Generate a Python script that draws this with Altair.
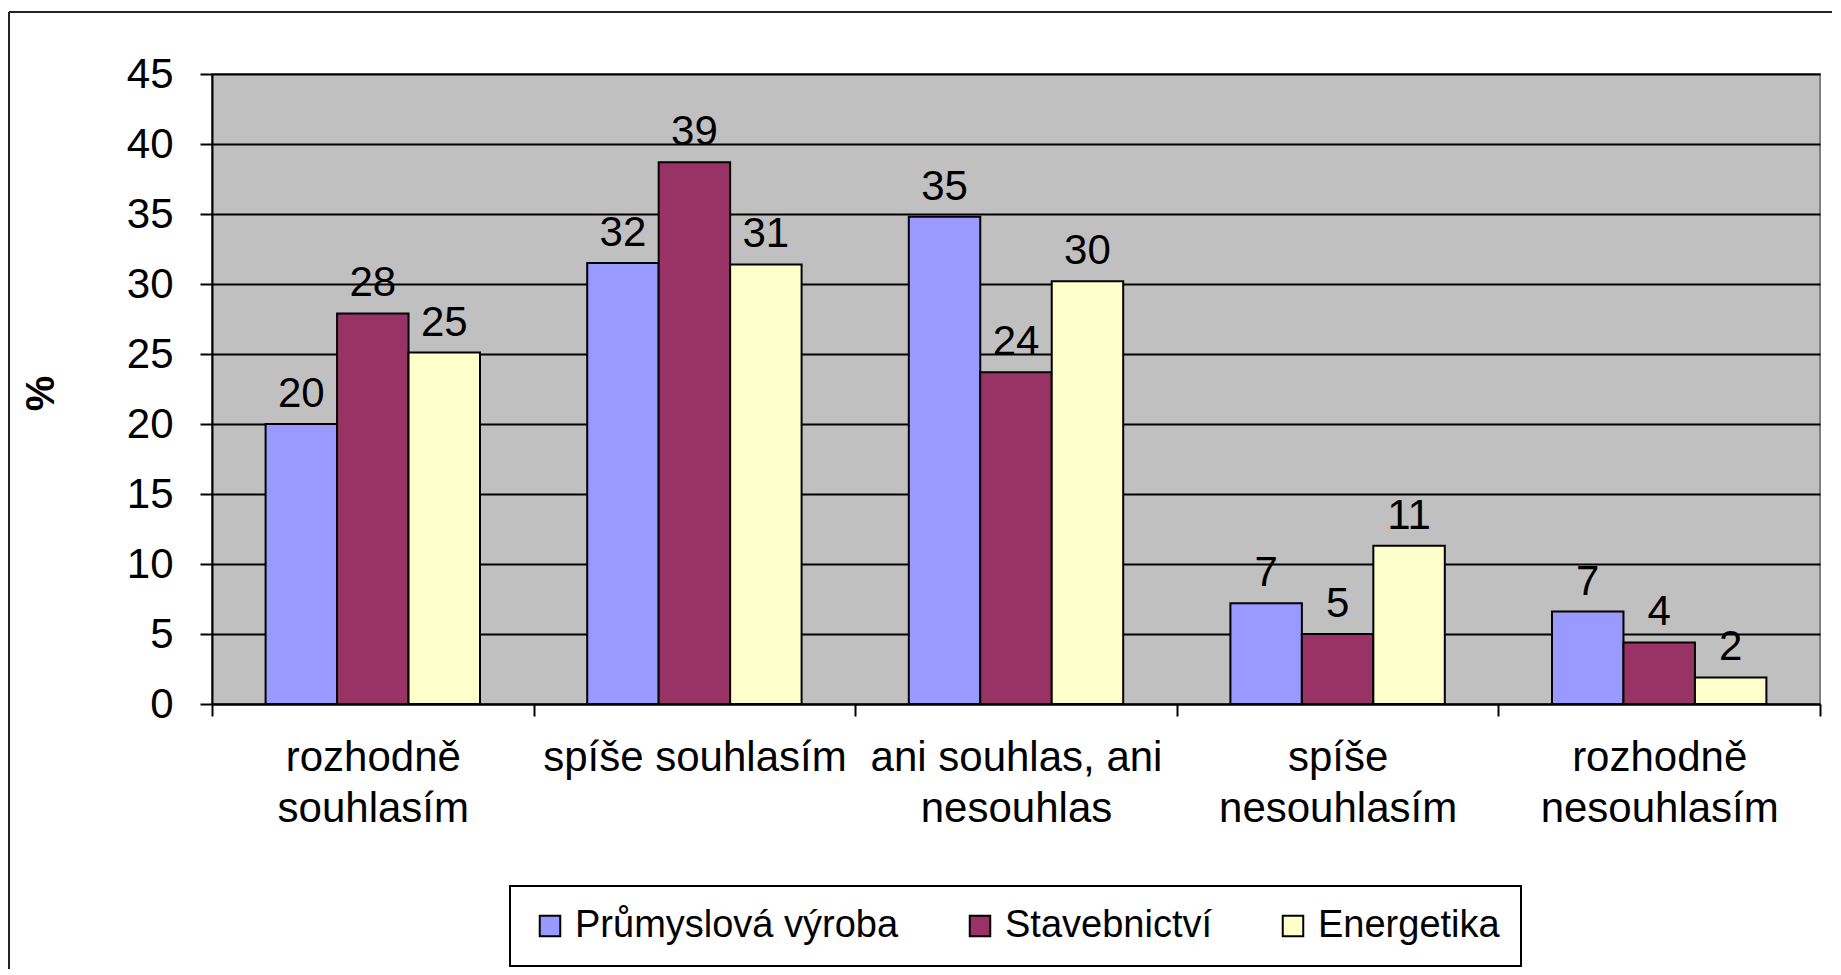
import altair as alt
import pandas as pd

categories = [
    "rozhodně\nsouhlasím",
    "spíše souhlasím",
    "ani souhlas, ani\nnesouhlas",
    "spíše\nnesouhlasím",
    "rozhodně\nnesouhlasím",
]
series = ["Průmyslová výroba", "Stavebnictví", "Energetika"]
prumysl = [20, 31.5, 34.8, 7.2, 6.6]
stavebnictvi = [27.9, 38.7, 23.7, 5.0, 4.4]
energetika = [25.1, 31.4, 30.2, 11.3, 1.9]
labels_prumysl = ["20", "32", "35", "7", "7"]
labels_stav = ["28", "39", "24", "5", "4"]
labels_energ = ["25", "31", "30", "11", "2"]
colors = ["#9999FF", "#993366", "#FFFFCC"]
y_ticks = [0, 5, 10, 15, 20, 25, 30, 35, 40, 45]

rows = []
for s, vals, labs in zip(series, [prumysl, stavebnictvi, energetika],
                         [labels_prumysl, labels_stav, labels_energ]):
    for c, v, l in zip(categories, vals, labs):
        rows.append({"kategorie": c, "sektor": s, "hodnota": v, "popisek": l})
df = pd.DataFrame(rows)

W, H = 1608, 630
FONT = "Liberation Sans"

x_enc = alt.X(
    "kategorie:N",
    sort=categories,
    scale=alt.Scale(paddingInner=0, paddingOuter=0),
    axis=alt.Axis(
        title=None,
        tickBand="extent",
        labelExpr="isValid(datum.value) ? split(datum.value, '\\n') : ''",
        labelFont=FONT,
        labelFontSize=42,
        labelColor="black",
        labelLineHeight=51,
        labelPadding=21,
        labelLimit=0,
        labelOverlap=False,
        labelAngle=0,
        labelBaseline="top",
        domainColor="black",
        domainWidth=2,
        tickColor="black",
        tickWidth=2,
        tickSize=12,
        grid=False,
    ),
)
xoff_enc = alt.XOffset(
    "sektor:N", sort=series,
    scale=alt.Scale(paddingInner=0, paddingOuter=0.75),
)
y_enc = alt.Y(
    "hodnota:Q",
    scale=alt.Scale(domain=[0, 45], nice=False),
    axis=alt.Axis(
        values=y_ticks,
        title="%",
        titleFont=FONT,
        titleFontSize=40,
        titleFontWeight="bold",
        titleColor="black",
        titleX=-171,
        titleY=319,
        titleAngle=-90,
        titleAlign="center",
        titleBaseline="middle",
        labelFont=FONT,
        labelFontSize=42,
        labelColor="black",
        labelPadding=27,
        domainColor="black",
        domainWidth=2,
        tickColor="black",
        tickWidth=2,
        tickSize=12,
        grid=True,
        gridColor="black",
        gridWidth=2,
        gridOpacity=1,
    ),
)

bars = alt.Chart(df).mark_bar(stroke="black", strokeWidth=2).encode(
    x=x_enc,
    xOffset=xoff_enc,
    y=y_enc,
    color=alt.Color(
        "sektor:N",
        sort=series,
        scale=alt.Scale(domain=series, range=colors),
        legend=alt.Legend(
            title=None,
            orient="none",
            legendX=298,
            legendY=812,
            direction="horizontal",
            symbolType="square",
            symbolSize=420,
            symbolStrokeColor="black",
            symbolStrokeWidth=2,
            symbolOpacity=1,
            labelFont=FONT,
            labelFontSize=38,
            labelColor="black",
            labelOffset=6,
            labelLimit=0,
            columnPadding=62,
            padding=21,
            strokeColor="black",
            fillColor="white",
        ),
    ),
)

texts = alt.Chart(df).mark_text(
    font=FONT, fontSize=42, color="black", baseline="alphabetic", dy=-17
).encode(
    x=alt.X("kategorie:N", sort=categories),
    xOffset=alt.XOffset("sektor:N", sort=series),
    y="hodnota:Q",
    text="popisek:N",
)

frame = alt.Chart(alt.Data(values=[{}]))
frame_left = frame.mark_rule(color="#222222", strokeWidth=2).encode(
    x=alt.value(-203), y=alt.value(-62), y2=alt.value(H + 300)
)
frame_top = frame.mark_rule(color="#222222", strokeWidth=2).encode(
    x=alt.value(-203), x2=alt.value(W + 200), y=alt.value(-62)
)

chart = alt.layer(bars, texts, frame_left, frame_top).properties(
    width=W,
    height=H,
    autosize=alt.AutoSizeParams(type="none"),
    padding={"left": 204, "top": 66, "right": 12, "bottom": 265},
    background="white",
).configure_view(
    fill="#C0C0C0", stroke="#808080", strokeWidth=2
).configure_legend(
    strokeWidth=2
)

chart.save("out.html", embed_options={"renderer": "svg", "actions": False})
